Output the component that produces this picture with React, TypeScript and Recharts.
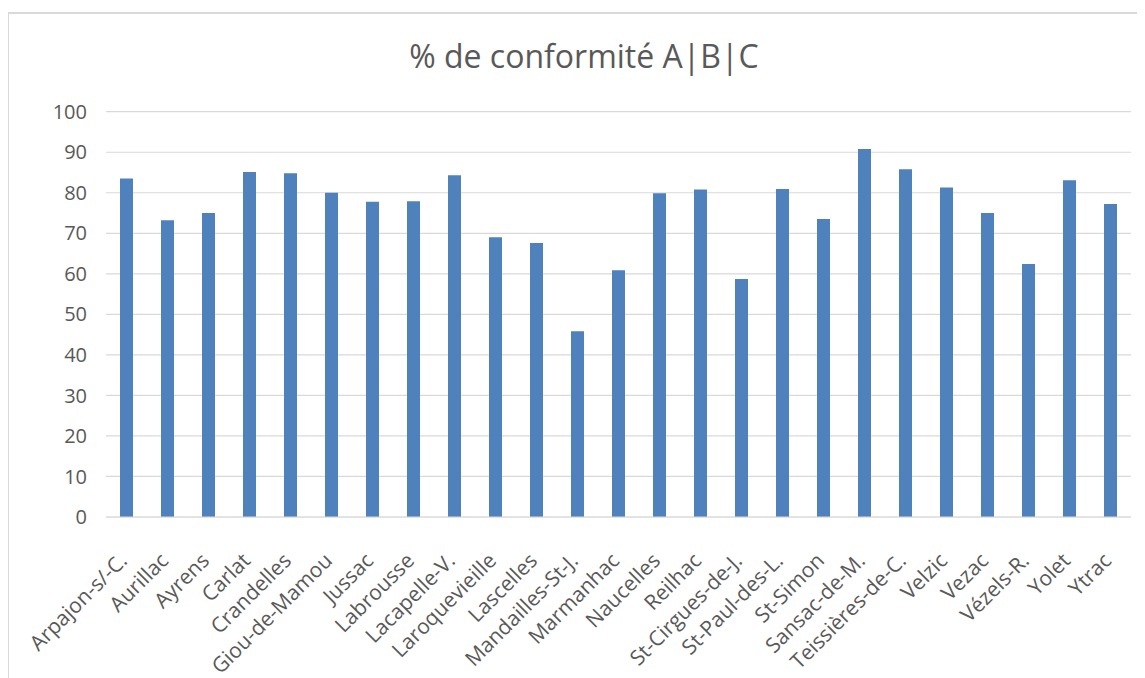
import React from "react";
import { BarChart, Bar, XAxis, YAxis, CartesianGrid } from "recharts";

const categories = [
  "Arpajon-s/-C.", "Aurillac", "Ayrens", "Carlat", "Crandelles", "Giou-de-Mamou",
  "Jussac", "Labrousse", "Lacapelle-V.", "Laroquevieille", "Lascelles", "Mandailles-St-J.",
  "Marmanhac", "Naucelles", "Reilhac", "St-Cirgues-de-J.", "St-Paul-des-L.", "St-Simon",
  "Sansac-de-M.", "Teissières-de-C.", "Velzic", "Vezac", "Vézels-R.", "Yolet", "Ytrac",
];

const values = [
  83.5, 73.2, 75.0, 85.1, 84.8, 80.0,
  77.8, 77.9, 84.3, 69.0, 67.6, 45.8,
  60.9, 79.9, 80.8, 58.7, 80.9, 73.5,
  90.8, 85.8, 81.3, 75.0, 62.4, 83.1, 77.2,
];

const yTicks = [0, 10, 20, 30, 40, 50, 60, 70, 80, 90, 100];

const data = categories.map((name, i) => ({ name, value: values[i] }));

const FONT = "'Open Sans', 'Noto Sans', sans-serif";

const XTick = (props: any) => {
  const { x, y, payload } = props;
  return (
    <g transform={`translate(${x + 2},${y + 37})`}>
      <text
        x={0}
        y={0}
        textAnchor="end"
        transform="rotate(-45)"
        fill="#595959"
        fontSize={21}
        fontFamily={FONT}
      >
        {payload.value}
      </text>
    </g>
  );
};

export default function App() {
  return (
    <div
      style={{
        position: "relative",
        width: 1138,
        height: 666,
        borderLeft: "2px solid #d9d9d9",
        borderTop: "2px solid #d9d9d9",
        boxSizing: "border-box",
        marginLeft: -1,
        marginTop: 4,
        background: "#fff",
      }}
    >
      <div
        style={{
          position: "absolute",
          left: 0,
          width: 1150,
          top: 22,
          textAlign: "center",
          fontFamily: FONT,
          fontSize: 32,
          lineHeight: "40px",
          color: "#595959",
        }}
      >
        % de conformité A|B|C
      </div>
      <BarChart
        width={1136}
        height={664}
        data={data}
        margin={{ top: 97.7, right: 14, left: 37, bottom: 0 }}
        barSize={13}
      >
        <CartesianGrid vertical={false} stroke="#d9d9d9" strokeWidth={1.2} />
        <XAxis
          dataKey="name"
          interval={0}
          tickLine={false}
          axisLine={{ stroke: "#d9d9d9", strokeWidth: 1.2 }}
          tick={<XTick />}
          height={161}
        />
        <YAxis
          domain={[0, 100]}
          ticks={yTicks}
          width={60}
          axisLine={false}
          tickLine={false}
          tick={{ fill: "#595959", fontSize: 20, fontFamily: FONT }}
          tickMargin={13}
        />
        <Bar dataKey="value" fill="#4f81bd" isAnimationActive={false} />
      </BarChart>
    </div>
  );
}
